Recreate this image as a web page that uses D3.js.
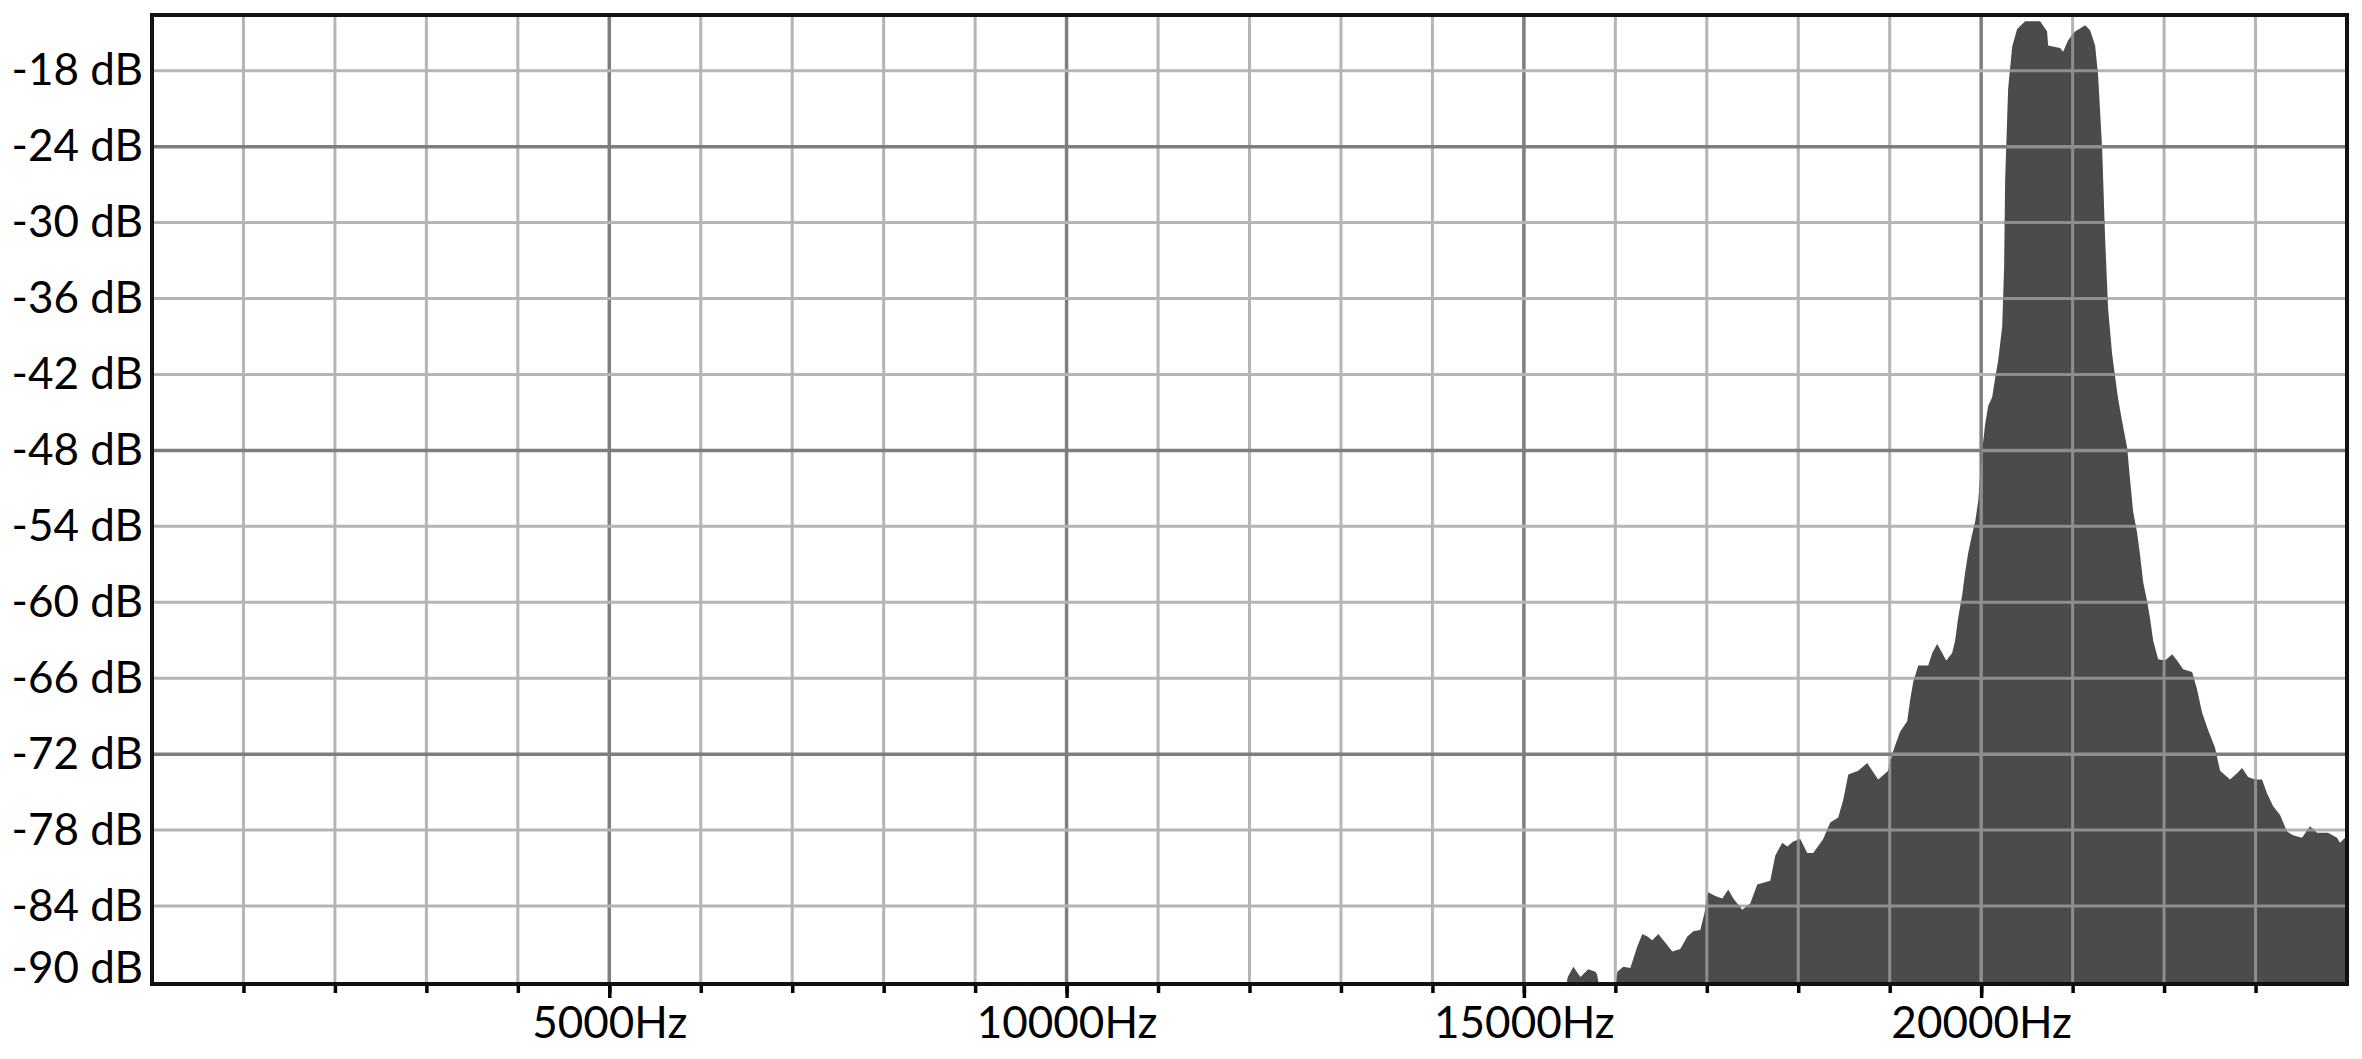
<!DOCTYPE html>
<html>
<head>
<meta charset="utf-8">
<script src="https://cdn.jsdelivr.net/npm/d3@7/dist/d3.min.js"></script>
<style>
  body { margin: 0; background: #fff; }
  svg { display: block; font-family: Lato, "Open Sans", sans-serif; }
</style>
</head>
<body>
<div id="graph_canvas"></div>
<script>
// spectrum: frequency (Hz) and level (dB)
var freqHz = [
  15440, 15470, 15480, 15541, 15618, 15705, 15782, 15800, 15815, 16010,
  16022, 16087, 16164, 16240, 16295, 16350, 16404, 16470, 16547, 16623,
  16710, 16787, 16853, 16929, 16973, 17016, 17093, 17170, 17235, 17290,
  17388, 17475, 17552, 17694, 17749, 17825, 17880, 17945, 18022, 18098,
  18164, 18273, 18350, 18437, 18492, 18547, 18656, 18754, 18809, 18874,
  18984, 19027, 19060, 19115, 19191, 19224, 19257, 19312, 19421, 19465,
  19519, 19574, 19618, 19683, 19716, 19749, 19793, 19825, 19858, 19902,
  19935, 19968, 20011, 20044, 20077, 20120, 20153, 20186, 20230, 20251,
  20262, 20295, 20339, 20393, 20481, 20645, 20721, 20732, 20863, 20896,
  20951, 21027, 21137, 21191, 21246, 21279, 21323, 21355, 21388, 21432,
  21465, 21497, 21541, 21596, 21628, 21661, 21705, 21738, 21771, 21814,
  21847, 21880, 21935, 22011, 22088, 22142, 22208, 22306, 22361, 22415,
  22481, 22557, 22612, 22721, 22798, 22853, 22918, 22995, 23071, 23126,
  23191, 23268, 23344, 23410, 23508, 23596, 23672, 23792, 23891, 23924,
  23978, 24000
]
var levelDb = [
  -92, -91, -89.6, -88.8, -89.6, -89.0, -89.2, -89.4, -91, -91,
  -89.2, -88.8, -88.9, -87.2, -86.2, -86.4, -86.7, -86.2, -86.9, -87.6,
  -87.4, -86.4, -86.0, -85.9, -84.6, -82.9, -83.2, -83.4, -82.7, -83.4,
  -84.3, -83.8, -82.3, -82.0, -80.0, -79.0, -79.3, -78.9, -78.7, -79.8,
  -79.8, -78.7, -77.4, -77.0, -75.6, -73.6, -73.3, -72.7, -73.3, -74.0,
  -73.3, -72.0, -71.3, -70.2, -69.4, -67.7, -66.3, -65.0, -65.0, -64.0,
  -63.3, -64.0, -64.6, -64.0, -63.0, -61.2, -59.4, -57.6, -56.1, -54.6,
  -53.6, -52.0, -48.0, -45.9, -44.5, -43.8, -42.3, -40.9, -38.2, -33.5,
  -26.6, -19.4, -16.1, -14.7, -14.1, -14.1, -14.9, -16.0, -16.2, -16.5,
  -15.6, -14.9, -14.4, -14.8, -16.0, -18.4, -24.2, -31.2, -36.8, -40.4,
  -42.2, -43.9, -45.7, -47.8, -50.3, -52.8, -54.5, -56.3, -58.4, -59.9,
  -61.3, -63.0, -64.5, -64.6, -64.1, -64.6, -65.3, -65.5, -66.9, -68.7,
  -70.1, -71.5, -73.3, -74.0, -73.5, -73.1, -73.8, -74.0, -74.0, -75.1,
  -76.1, -76.8, -78.1, -78.4, -78.6, -77.7, -78.2, -78.2, -78.6, -79.0,
  -78.6, -78.6
]

var xGridTicks = [1000, 2000, 3000, 4000, 5000, 6000, 7000, 8000, 9000, 10000, 11000, 12000,
                  13000, 14000, 15000, 16000, 17000, 18000, 19000, 20000, 21000, 22000, 23000]
var xLabelTicks = [5000, 10000, 15000, 20000]
var yTicks = [-18, -24, -30, -36, -42, -48, -54, -60, -66, -72, -78, -84, -90]
var yMajorTicks = [-24, -48, -72]
var freqDomain = [0, 24000]
var dbDomain = [-90, -13.6]

drawChart()

function drawChart() {
    "use strict"
    var width = 2362, height = 1059
    var margin = { top: 15, left: 152, bottom: 77, right: 15 }
    var chartWidth = width - margin.left - margin.right
    var chartHeight = height - margin.top - margin.bottom

    var data = freqHz.map(function(f, i) { return { hz: f, db: levelDb[i] } })

    var svg = d3.select("#graph_canvas").append("svg")
        .attr("width", width)
        .attr("height", height)
    svg.append("rect").attr("width", width).attr("height", height).attr("fill", "#fff")

    var g = svg.append("g").attr("transform", "translate(" + [margin.left, margin.top] + ")")

    var x = d3.scaleLinear().domain(freqDomain).range([0, chartWidth])
    var y = d3.scaleLinear().domain(dbDomain).range([chartHeight, 0]).clamp(true)

    var area = d3.area()
        .x(function(d) { return x(d.hz) })
        .y0(y(dbDomain[0]))
        .y1(function(d) { return y(d.db) })

    svg.append("defs").append("clipPath").attr("id", "areaClip")
        .append("path").attr("d", area(data))

    function drawGrid(layer, overFill) {
        layer.selectAll("line.v")
            .data(xGridTicks)
            .enter().append("line")
            .attr("class", "v")
            .attr("x1", function(d) { return x(d) })
            .attr("x2", function(d) { return x(d) })
            .attr("y1", 0)
            .attr("y2", chartHeight)
            .attr("stroke", function(d) { return overFill ? "#8e8e8e" : (xLabelTicks.indexOf(d) >= 0 ? "#7e7e7e" : "#b5b5b5") })
            .attr("stroke-width", function(d) { return xLabelTicks.indexOf(d) >= 0 ? 3.5 : 3 })

        layer.selectAll("line.h")
            .data(yTicks.filter(function(d) { return d > dbDomain[0] }))
            .enter().append("line")
            .attr("class", "h")
            .attr("x1", 0)
            .attr("x2", chartWidth)
            .attr("y1", function(d) { return y(d) })
            .attr("y2", function(d) { return y(d) })
            .attr("stroke", function(d) { return overFill ? "#8e8e8e" : (yMajorTicks.indexOf(d) >= 0 ? "#7e7e7e" : "#b5b5b5") })
            .attr("stroke-width", function(d) { return yMajorTicks.indexOf(d) >= 0 ? 3.5 : 3 })
    }

    drawGrid(g.append("g").attr("class", "grid"), false)

    g.append("path")
        .datum(data)
        .attr("d", area)
        .attr("fill", "#4b4b4b")

    drawGrid(g.append("g").attr("class", "grid-over").attr("clip-path", "url(#areaClip)"), true)

    // minor ticks on the frequency axis
    g.append("g")
        .attr("transform", "translate(0," + chartHeight + ")")
        .call(d3.axisBottom(x).tickValues(xGridTicks).tickSize(11).tickSizeOuter(0).tickFormat(""))
        .call(function(a) {
            a.select(".domain").remove()
            a.selectAll(".tick line").attr("stroke", "#000").attr("stroke-width", 3.5)
        })

    // labelled ticks
    g.append("g")
        .attr("transform", "translate(0," + chartHeight + ")")
        .call(d3.axisBottom(x).tickValues(xLabelTicks).tickSize(16).tickPadding(9).tickSizeOuter(0)
            .tickFormat(function(d) { return d + "Hz" }))
        .call(function(a) {
            a.select(".domain").remove()
            a.selectAll(".tick line").attr("stroke", "#000").attr("stroke-width", 3.5)
            a.selectAll(".tick text").attr("fill", "#000").attr("font-size", 44)
                .attr("font-family", "Lato, 'Open Sans', sans-serif")
        })

    g.append("g")
        .call(d3.axisLeft(y).tickValues(yTicks).tickSize(0).tickPadding(9)
            .tickFormat(function(d) { return d + " dB" }))
        .call(function(a) {
            a.select(".domain").remove()
            a.selectAll(".tick text").attr("fill", "#000").attr("font-size", 44)
                .attr("font-family", "Lato, 'Open Sans', sans-serif")
                .filter(function(d) { return d === dbDomain[0] })
                .attr("dy", "0.02em")
        })

    // frame
    g.append("rect")
        .attr("x", 0)
        .attr("y", 0)
        .attr("width", chartWidth)
        .attr("height", chartHeight + 2)
        .attr("fill", "none")
        .attr("stroke", "#111")
        .attr("stroke-width", 4)
}
</script>
</body>
</html>
